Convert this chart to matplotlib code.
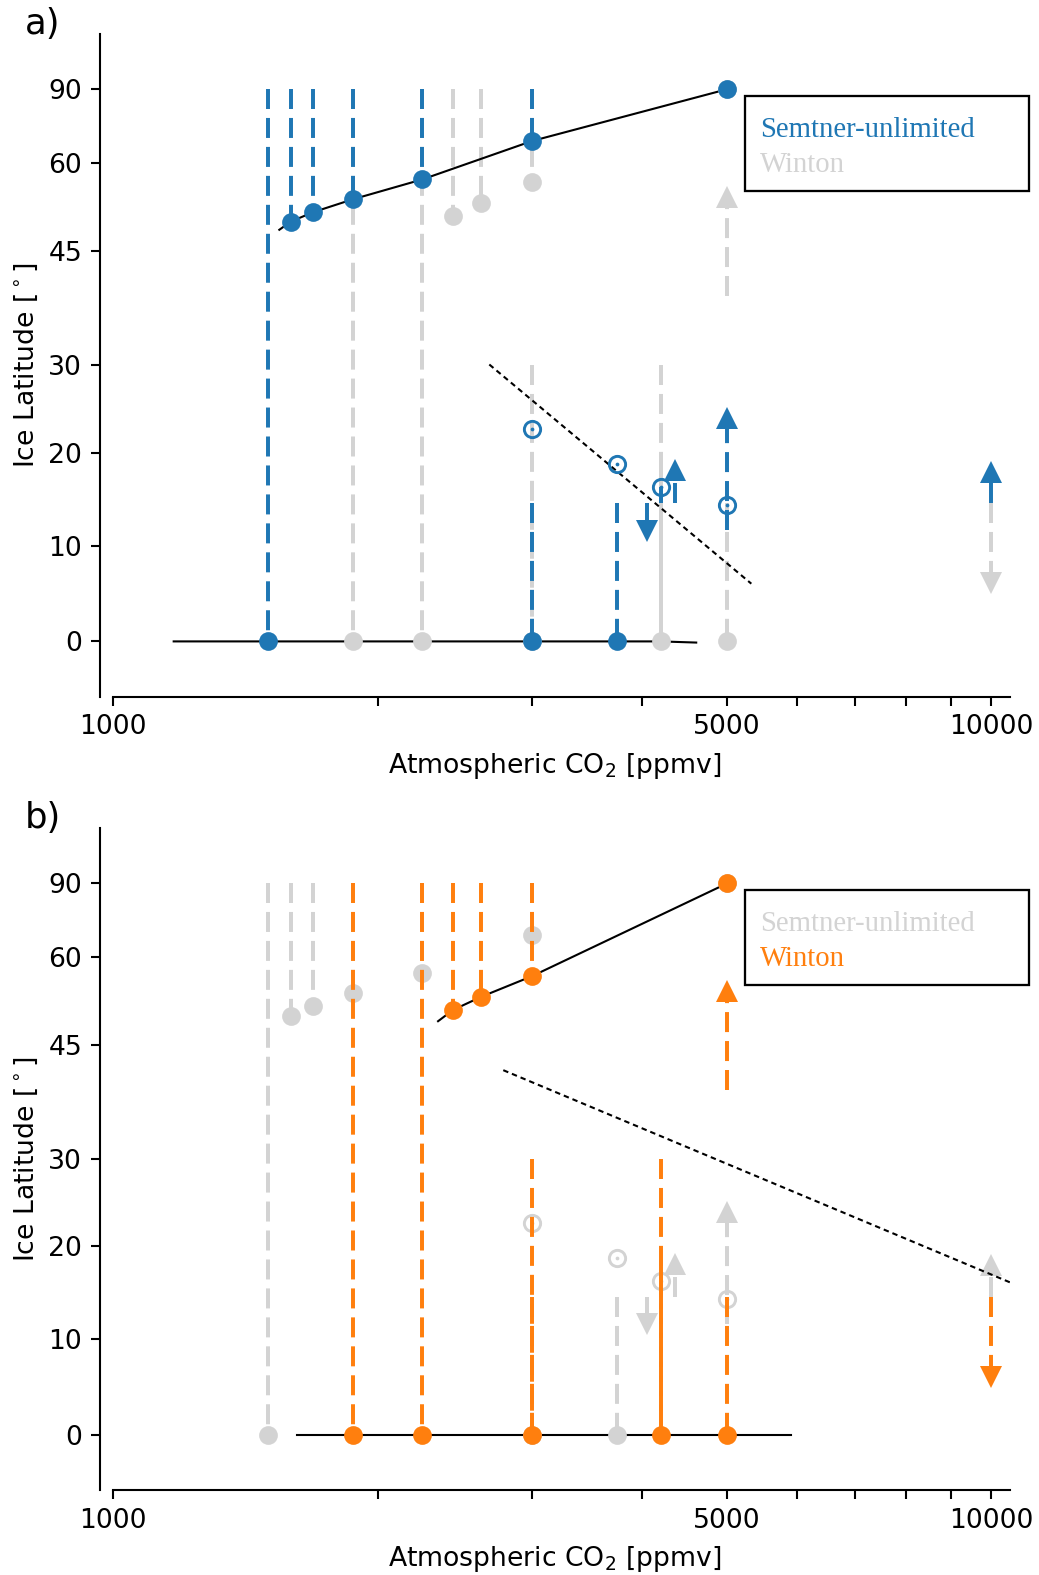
import numpy as np
import matplotlib.pyplot as plt
from matplotlib.patches import Rectangle
from matplotlib.ticker import NullLocator
from matplotlib.transforms import offset_copy

plt.rcParams['lines.scale_dashes'] = False

BLUE = '#1f77b4'
ORANGE = '#ff7f0e'
GREY = '#d3d3d3'

# ---- Semtner-unlimited runs ----
sem_eq_co2 = [1500, 1594, 1688, 1875, 2250, 3000, 5000, 3000, 3750]
sem_eq_lat = [0, 49.5, 51.0, 53.2, 56.8, 65.0, 90, 0, 0]
sem_unst_co2 = [3000, 3750, 4200, 5000]
sem_unst_lat = [22.6, 18.7, 16.2, 14.3]
sem_run_co2 = [1500, 1594, 1688, 1875, 2250, 3000, 3000, 3750, 4200]
sem_run_start = [90, 90, 90, 90, 90, 90, 14.5, 14.5, 14.5]
sem_run_end = [0, 49.5, 51.0, 53.2, 56.8, 65.0, 0, 0, 16.2]
sem_arrow_co2 = [4050, 4360, 5000, 10000]
sem_arrow_start = [14.5, 14.5, 11.6, 14.5]
sem_arrow_end = [10.4, 19.3, 25.1, 19.1]
sem_warm_co2 = [1546, 1594, 1688, 1875, 2250, 3000, 5000]
sem_warm_lat = [48.2, 49.5, 51.0, 53.2, 56.8, 65.0, 90]
sem_cold_co2 = [1172, 4200, 4612]
sem_cold_lat = [0, 0, -0.12]
sem_unst_fit_co2 = [2681, 5329]
sem_unst_fit_lat = [30.1, 6.0]

# ---- Winton runs ----
win_eq_co2 = [1875, 2250, 2437.5, 2625, 3000, 3000, 4200, 5000, 5000]
win_eq_lat = [0, 0, 50.4, 52.6, 56.3, 0, 0, 0, 90]
win_unst_co2 = []
win_unst_lat = []
win_run_co2 = [1875, 2250, 2437.5, 2625, 3000, 3000, 3000, 4200, 4200, 5000]
win_run_start = [90, 90, 90, 90, 90, 30, 14.5, 30, 18.5, 14.5]
win_run_end = [0, 0, 50.4, 52.6, 56.3, 0, 0, 0, 0, 0]
win_arrow_co2 = [5000, 10000]
win_arrow_start = [38.7, 14.5]
win_arrow_end = [55.6, 4.9]
win_warm_co2 = [2344, 2437.5, 2625, 3000, 5000]
win_warm_lat = [48.6, 50.4, 52.6, 56.3, 90]
win_cold_co2 = [1619, 5906]
win_cold_lat = [0, 0]
win_unst_fit_co2 = [2781, 10500]
win_unst_fit_lat = [41.4, 16.05]

xticks = [1000, 2000, 3000, 4000, 5000, 6000, 7000, 8000, 9000, 10000]
xtick_labels = ['1000', '', '', '', '5000', '', '', '', '', '10000']
ytick_deg = [0, 10, 20, 30, 45, 60, 90]

DASH = (9.6, 4.3)
LW = 1.9
HEAD = 10.5
FS = 12.8


def s(lat):
    return np.sin(np.radians(np.asarray(lat, dtype=float)))


def draw_model(ax, color, top, eq, unst, runs, arrows, warm, cold, unst_fit):
    zl = 4 if top else 1
    zm = 5 if top else 3
    for c, a, b in zip(*runs):
        ax.plot([c, c], [s(a), s(b)], color=color, lw=LW, dashes=DASH,
                zorder=zl)
    for c, a, b in zip(*arrows):
        sign = 1 if b > a else -1
        ax.plot([c, c], [s(a), s(b) - sign * 0.028], color=color, lw=LW,
                dashes=DASH, zorder=zl)
        tr = offset_copy(ax.transData, fig=ax.figure, y=-sign * HEAD / 2,
                         units='points')
        ax.plot([c], [s(b)], marker='^' if sign > 0 else 'v', ms=HEAD,
                mew=0, color=color, transform=tr, zorder=zl)
    ax.plot(eq[0], s(eq[1]), 'o', ms=9, mew=0, color=color, zorder=zm,
            ls='none')
    if len(unst[0]):
        ax.plot(unst[0], s(unst[1]), 'o', ms=7.8, mew=1.4, mfc='none',
                mec=color, zorder=zm, ls='none')
        ax.plot(unst[0], s(unst[1]), 'o', ms=1.8, mew=0, color=color,
                zorder=zm, ls='none')
    if top:
        ax.plot(warm[0], s(warm[1]), color='k', lw=1.0, zorder=2)
        ax.plot(cold[0], s(cold[1]), color='k', lw=1.0, zorder=2)
        ax.plot(unst_fit[0], s(unst_fit[1]), color='k', lw=1.0,
                dashes=(2.6, 1.9), zorder=2)


def setup(ax, label, names, colors):
    ax.set_xscale('log')
    ax.set_xticks(xticks, labels=xtick_labels)
    ax.xaxis.set_minor_locator(NullLocator())
    ax.set_xlim(966, 10500)
    ax.set_yticks(s(ytick_deg), labels=[str(d) for d in ytick_deg])
    ax.set_ylim(-0.1, 1.1)
    ax.spines[['top', 'right']].set_visible(False)
    ax.spines['bottom'].set_bounds(1000, 10500)
    for sp in ax.spines.values():
        sp.set_linewidth(1.0)
    ax.tick_params(length=4.5, width=1.0, labelsize=FS, pad=4)
    ax.set_xlabel('Atmospheric CO$_2$ [ppmv]', fontsize=FS, labelpad=5)
    ax.set_ylabel('Ice Latitude [$^\\circ$]', fontsize=FS)
    ax.text(-0.0824, 1.0, label, transform=ax.transAxes, fontsize=17,
            ha='left', va='baseline')
    # legend box with coloured names
    ax.add_patch(Rectangle((0.7084, 0.763), 0.3125, 0.144,
                           transform=ax.transAxes, fill=False, ec='k',
                           lw=1.1, clip_on=False, zorder=6))
    for name, col, yb in zip(names, colors, [0.845, 0.792]):
        ax.text(0.7249, yb, name, transform=ax.transAxes, color=col,
                family='Liberation Serif', fontsize=13.8, ha='left',
                va='baseline', zorder=7)


fig = plt.figure(figsize=(1039 / 150, 1575 / 150), dpi=150)
ax_a = fig.add_axes([0.0962, 0.5577, 0.8759, 0.4207])
ax_b = fig.add_axes([0.0962, 0.0540, 0.8759, 0.4201])

sem = dict(eq=(sem_eq_co2, sem_eq_lat), unst=(sem_unst_co2, sem_unst_lat),
           runs=(sem_run_co2, sem_run_start, sem_run_end),
           arrows=(sem_arrow_co2, sem_arrow_start, sem_arrow_end),
           warm=(sem_warm_co2, sem_warm_lat), cold=(sem_cold_co2, sem_cold_lat),
           unst_fit=(sem_unst_fit_co2, sem_unst_fit_lat))
win = dict(eq=(win_eq_co2, win_eq_lat), unst=(win_unst_co2, win_unst_lat),
           runs=(win_run_co2, win_run_start, win_run_end),
           arrows=(win_arrow_co2, win_arrow_start, win_arrow_end),
           warm=(win_warm_co2, win_warm_lat), cold=(win_cold_co2, win_cold_lat),
           unst_fit=(win_unst_fit_co2, win_unst_fit_lat))

# a) Semtner-unlimited highlighted
draw_model(ax_a, GREY, False, **win)
draw_model(ax_a, BLUE, True, **sem)
setup(ax_a, 'a)', ['Semtner-unlimited', 'Winton'], [BLUE, GREY])

# b) Winton highlighted
draw_model(ax_b, GREY, False, **sem)
draw_model(ax_b, ORANGE, True, **win)
setup(ax_b, 'b)', ['Semtner-unlimited', 'Winton'], [GREY, ORANGE])

fig.savefig('out.png', dpi=150)
